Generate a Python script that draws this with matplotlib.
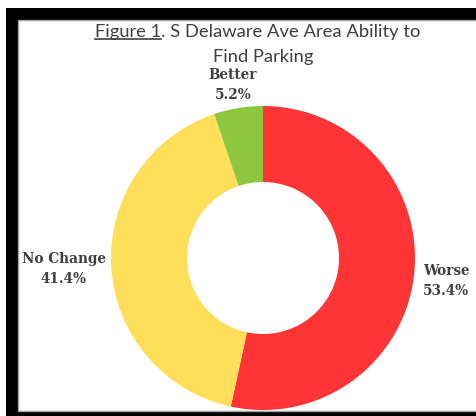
import matplotlib
matplotlib.use("Agg")
import matplotlib.pyplot as plt
from matplotlib.patches import Rectangle
from matplotlib.lines import Line2D

# Survey responses: ability to find parking
categories = ["Worse", "No Change", "Better"]
shares = [53.4, 41.4, 5.2]
colors = ["#FF3434", "#FFDE5A", "#8DC73F"]

title_line1 = "Figure 1. S Delaware Ave Area Ability to"
title_line2 = "Find Parking"
title_underlined = "Figure 1"

W, H = 477, 416
fig = plt.figure(figsize=(W / 100, H / 100), dpi=100)
fig.patch.set_facecolor("white")

def px(x, y):
    return x / W, 1 - y / H

# Dark frame around the white panel
fig.add_artist(Rectangle(px(6, 416), (W - 6) / W, (416 - 8) / H,
                         transform=fig.transFigure, facecolor="black",
                         edgecolor="none", zorder=0))
fig.add_artist(Rectangle(px(18, 411), (W - 18) / W, (411 - 20) / H,
                         transform=fig.transFigure, facecolor="white",
                         edgecolor="#A0A0A0", linewidth=1, zorder=0.5))

# Donut chart
ax = fig.add_axes([111 / W, 6 / H, 304 / W, 304 / H])
ax.set_zorder(2)
ax.patch.set_visible(False)
ax.pie(shares, colors=colors, startangle=90, counterclock=False,
       radius=1.0, wedgeprops=dict(width=0.5, edgecolor="none"))
ax.set_xlim(-1, 1)
ax.set_ylim(-1, 1)
ax.set_aspect("auto")
ax.axis("off")

# Title
title_color = "#404040"
tfont = dict(family="Lato", size=13.2, color=title_color, zorder=3)
t1 = fig.text(*px(258, 32), title_line1, ha="center", va="center", **tfont)
fig.text(*px(263, 57), title_line2, ha="center", va="center", **tfont)

fig.canvas.draw()
r = fig.canvas.get_renderer()
bb = t1.get_window_extent(r)
tmp = fig.text(0, 0, title_underlined, **tfont)
wbb = tmp.get_window_extent(r)
tmp.remove()
x0 = bb.x0 / W
x1 = (bb.x0 + wbb.width) / W
yl = (bb.y0 + 1) / H
fig.add_artist(Line2D([x0, x1], [yl, yl], transform=fig.transFigure,
                      color=title_color, linewidth=1.2, zorder=3))

# Category labels
lfont = dict(family="DejaVu Serif", weight="bold", size=9.8, color="#404040",
             ha="center", va="center", linespacing=1.55, zorder=3)
label_pos = {"Worse": (446, 281), "No Change": (64, 269), "Better": (233, 85)}
for cat, val in zip(categories, shares):
    fig.text(*px(*label_pos[cat]), f"{cat}\n{val:.1f}%", **lfont)

fig.savefig("out.png", dpi=100, facecolor="white")
